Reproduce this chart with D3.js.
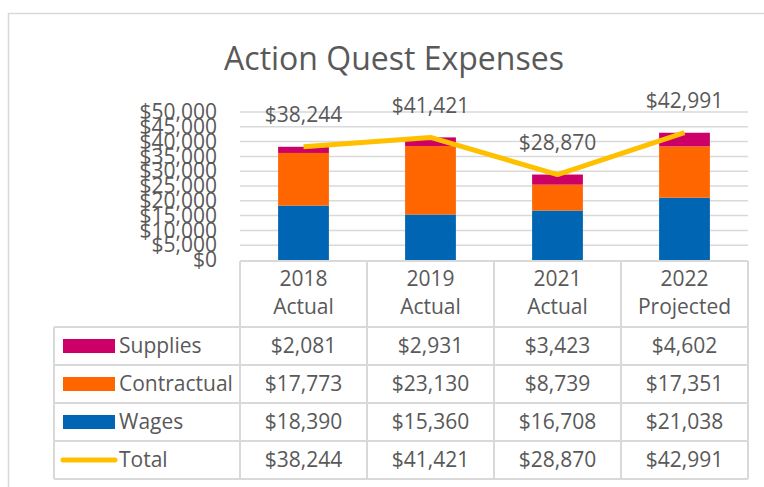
<!DOCTYPE html>
<html>
<head>
<meta charset="utf-8">
<script src="https://cdn.jsdelivr.net/npm/d3@7"></script>
<style>
    body { margin: 0; background: #fff; }
    text { font-family: "Open Sans", "Noto Sans", sans-serif; fill: #595959; }
</style>
</head>
<body>
<script>
//chart data
var years = ["2018", "2019", "2021", "2022"];
var yearNotes = ["Actual", "Actual", "Actual", "Projected"];
var supplies = [2081, 2931, 3423, 4602];
var contractual = [17773, 23130, 8739, 17351];
var wages = [18390, 15360, 16708, 21038];
var totals = [38244, 41421, 28870, 42991];
var yTicks = [0, 5000, 10000, 15000, 20000, 25000, 30000, 35000, 40000, 45000, 50000];

//series in stacking order, bottom first
var seriesNames = ["Wages", "Contractual", "Supplies"];
var seriesColors = {Wages: "#0066B3", Contractual: "#FF6600", Supplies: "#CC0066"};
var lineColor = "#FFC000";

var width = 764, height = 487;
var fmt = d3.format("$,");

var svg = d3.select("body").append("svg")
    .attr("width", width)
    .attr("height", height);

//outer chart frame, runs off the right and bottom edges
svg.append("rect")
    .attr("x", 8.5).attr("y", 13.5)
    .attr("width", 800).attr("height", 520)
    .attr("fill", "none")
    .attr("stroke", "#D9D9D9")
    .attr("stroke-width", 1.5);

//title
svg.append("text")
    .attr("x", 394).attr("y", 70)
    .attr("text-anchor", "middle")
    .style("font-size", "32px")
    .text("Action Quest Expenses");

//scales
var x = d3.scaleBand()
    .domain(years)
    .range([240, 748])
    .padding(0);

var y = d3.scaleLinear()
    .domain([0, 50000])
    .range([260, 112]);

//gridlines
svg.append("g").selectAll("line")
    .data(yTicks.slice(1))
    .enter().append("line")
    .attr("x1", 240).attr("x2", 748)
    .attr("y1", function(d){ return y(d); })
    .attr("y2", function(d){ return y(d); })
    .attr("stroke", "#D9D9D9")
    .attr("stroke-width", 1.5);

//y axis labels
var yAxis = svg.append("g")
    .attr("transform", "translate(240,0)")
    .call(d3.axisLeft(y).tickValues(yTicks).tickFormat(fmt).tickSize(0).tickPadding(23));
yAxis.select(".domain").remove();
yAxis.selectAll("text")
    .style("font-size", "21px")
    .style("font-family", "\"Open Sans\", sans-serif")
    .attr("fill", "#595959");

//stacked bars
var table = years.map(function(yr, i){
    return {year: yr, Wages: wages[i], Contractual: contractual[i], Supplies: supplies[i]};
});
var stacked = d3.stack().keys(seriesNames)(table);
var barWidth = x.bandwidth() * 0.4;

svg.append("g").selectAll("g")
    .data(stacked)
    .enter().append("g")
    .attr("fill", function(d){ return seriesColors[d.key]; })
    .selectAll("rect")
    .data(function(d){ return d; })
    .enter().append("rect")
    .attr("x", function(d){ return x(d.data.year) + (x.bandwidth() - barWidth) / 2; })
    .attr("width", barWidth)
    .attr("y", function(d){ return y(d[1]); })
    .attr("height", function(d){ return y(d[0]) - y(d[1]); });

//total line
var line = d3.line()
    .x(function(d, i){ return x(years[i]) + x.bandwidth() / 2; })
    .y(function(d){ return y(d); });

svg.append("path")
    .datum(totals)
    .attr("d", line)
    .attr("fill", "none")
    .attr("stroke", lineColor)
    .attr("stroke-width", 5)
    .attr("stroke-linejoin", "round");

//total data labels
svg.append("g").selectAll("text")
    .data(totals)
    .enter().append("text")
    .attr("x", function(d, i){ return x(years[i]) + x.bandwidth() / 2; })
    .attr("y", function(d){ return y(d) - 32; })
    .attr("dy", "0.35em")
    .attr("text-anchor", "middle")
    .style("font-size", "21px")
    .text(function(d){ return fmt(d); });

//data table
var gridColor = "#D9D9D9";
var headTop = 261, rowTop = 327, rowH = 38;
var rows = [
    {name: "Supplies", values: supplies, type: "rect"},
    {name: "Contractual", values: contractual, type: "rect"},
    {name: "Wages", values: wages, type: "rect"},
    {name: "Total", values: totals, type: "line"}
];
var tableBottom = rowTop + rows.length * rowH;
var tg = svg.append("g");

//horizontal borders
tg.append("line")
    .attr("x1", 240).attr("x2", 748).attr("y1", headTop).attr("y2", headTop)
    .attr("stroke", gridColor).attr("stroke-width", 2);
d3.range(rows.length + 1).forEach(function(r){
    tg.append("line")
        .attr("x1", 54).attr("x2", 748)
        .attr("y1", rowTop + r * rowH).attr("y2", rowTop + r * rowH)
        .attr("stroke", gridColor).attr("stroke-width", 2);
});
//vertical borders
tg.append("line")
    .attr("x1", 54).attr("x2", 54).attr("y1", rowTop).attr("y2", tableBottom)
    .attr("stroke", gridColor).attr("stroke-width", 2);
years.concat(["end"]).forEach(function(yr, i){
    var xx = 240 + i * x.step();
    tg.append("line")
        .attr("x1", xx).attr("x2", xx).attr("y1", headTop).attr("y2", tableBottom)
        .attr("stroke", gridColor).attr("stroke-width", 2);
});

//header cells
years.forEach(function(yr, i){
    var cx = x(yr) + x.bandwidth() / 2;
    tg.append("text").attr("x", cx).attr("y", 279).attr("dy", "0.35em")
        .attr("text-anchor", "middle").style("font-size", "21px").text(yr);
    tg.append("text").attr("x", cx).attr("y", 307).attr("dy", "0.35em")
        .attr("text-anchor", "middle").style("font-size", "21px").text(yearNotes[i]);
});

//body rows with legend keys
rows.forEach(function(row, r){
    var cy = rowTop + r * rowH + rowH / 2;
    if (row.type == "rect"){
        tg.append("rect")
            .attr("x", 63).attr("y", cy - 7)
            .attr("width", 52).attr("height", 14)
            .attr("fill", seriesColors[row.name]);
    } else {
        tg.append("line")
            .attr("x1", 63).attr("x2", 115).attr("y1", cy).attr("y2", cy)
            .attr("stroke", lineColor).attr("stroke-width", 5)
            .attr("stroke-linecap", "round");
    };
    tg.append("text").attr("x", 119).attr("y", cy).attr("dy", "0.35em")
        .style("font-size", "21px").text(row.name);
    row.values.forEach(function(v, i){
        tg.append("text")
            .attr("x", x(years[i]) + x.bandwidth() / 2)
            .attr("y", cy).attr("dy", "0.35em")
            .attr("text-anchor", "middle")
            .style("font-size", "21px")
            .text(fmt(v));
    });
});
</script>
</body>
</html>
